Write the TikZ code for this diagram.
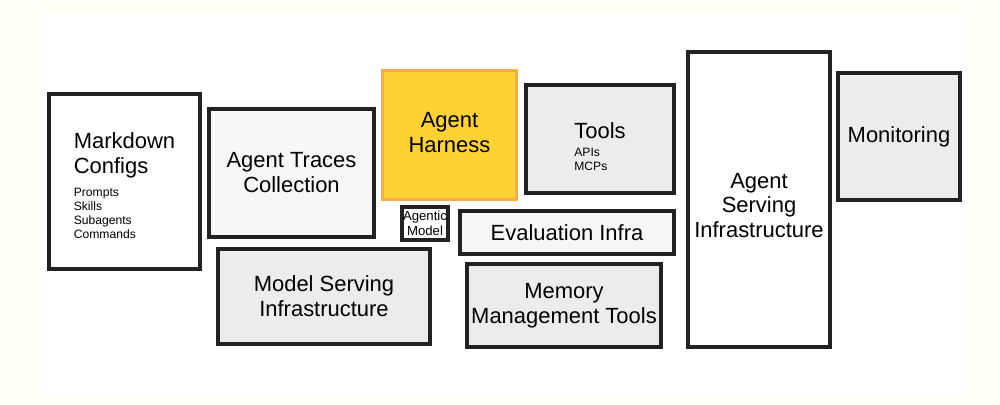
\documentclass[tikz,border=0pt]{standalone}
\usepackage{fontspec}
\setmainfont{Liberation Sans}
\usepackage{xcolor}
\usetikzlibrary{positioning}

\definecolor{paper}{HTML}{FFFFF6}
\definecolor{boxline}{HTML}{222222}
\definecolor{boxgray}{HTML}{EBECEE}
\definecolor{boxlight}{HTML}{F7F7F7}
\definecolor{harnessfill}{HTML}{FFD233}
\definecolor{harnessline}{HTML}{FFAA4A}

\newcommand{\bigtxt}{\fontsize{12.5}{14.2}\selectfont}
\newcommand{\smalltxt}{\fontsize{6.9}{8}\selectfont}
\newcommand{\sublist}[1]{\smalltxt\begin{tabular}[t]{@{}l@{}}#1\end{tabular}}

\begin{document}
\begin{tikzpicture}[
    % Gaya dasar untuk setiap blok
    stack_box/.style={
        draw=boxline,
        rectangle,
        line width=2.2pt,
        inner sep=0pt,
        align=center,
        font=\bigtxt
    },
    white_box/.style={stack_box, fill=white},
    gray_box/.style={stack_box, fill=boxgray},
    light_box/.style={stack_box, fill=boxlight},
    harness_box/.style={stack_box, draw=harnessline, fill=harnessfill, line width=1.8pt},
    box_text/.style={font=\bigtxt, align=center, inner sep=0pt}
]

% =====================================================================
% LATAR BELAKANG
% =====================================================================
\fill[paper] (0,0) rectangle (20,-8.08);
\fill[white] (0.80,-0.28) rectangle (19.36,-7.90);

% =====================================================================
% DEFINISI NODE / BLOK
% =====================================================================
\node (markdown) [white_box, minimum width=3.02cm, minimum height=3.50cm]
    at (2.49,-3.63) {};
\node (markdowntxt) at ([yshift=-0.12cm]markdown.center) [box_text, align=left]
    {Markdown\\Configs\\[-1pt]\sublist{Prompts\\Skills\\Subagents\\Commands}};
\node (traces) [light_box, minimum width=3.30cm, minimum height=2.56cm]
    at (5.83,-3.46) {Agent Traces\\Collection};
\node (harness) [harness_box, minimum width=2.68cm, minimum height=2.58cm]
    at (8.99,-2.70) {};
\node (harnesstxt) at ([yshift=0.05cm]harness.center) [box_text] {Agent\\Harness};
\node (agentic) [white_box, minimum width=0.92cm, minimum height=0.66cm, line width=1.8pt,
    font=\fontsize{7.5}{8.5}\selectfont] at (8.50,-4.47) {Agentic\\Model};
\node (tools) [gray_box, minimum width=2.96cm, minimum height=2.16cm]
    at (12.00,-2.78) {};
\node (toolstxt) at ([yshift=-0.2cm]tools.center) [box_text, align=left]
    {Tools\\[-4pt]\sublist{APIs\\MCPs}};
\node (evaluation) [light_box, minimum width=4.28cm, minimum height=0.86cm]
    at (11.34,-4.65) {Evaluation Infra};
\node (modelserving) [gray_box, minimum width=4.24cm, minimum height=1.90cm]
    at (6.48,-5.93) {Model Serving\\Infrastructure};
\node (memory) [gray_box, minimum width=3.88cm, minimum height=1.66cm]
    at (11.28,-6.11) {Memory\\Management Tools};
\node (agentserving) [white_box, minimum width=2.84cm, minimum height=5.90cm]
    at (15.18,-3.99) {};
\node (agentservingtxt) at ([yshift=-0.12cm]agentserving.center) [box_text]
    {Agent\\Serving\\Infrastructure};
\node (monitoring) [gray_box, minimum width=2.44cm, minimum height=2.54cm]
    at (17.98,-2.73) {Monitoring};

\end{tikzpicture}
\end{document}
